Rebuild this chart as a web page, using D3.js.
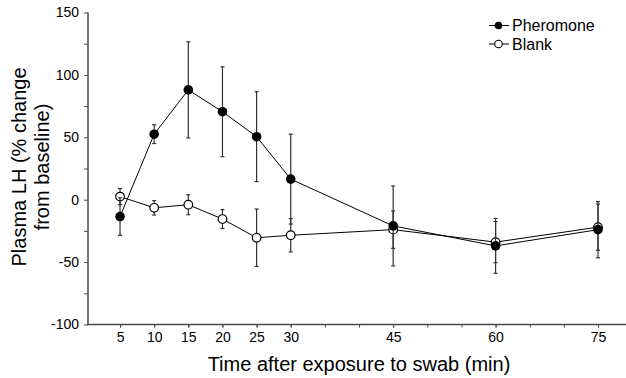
<!DOCTYPE html>
<html><head><meta charset="utf-8">
<script src="https://cdn.jsdelivr.net/npm/d3@7"></script>
<style>body{margin:0;background:#fff}svg{display:block}text{font-family:"Liberation Sans",Arial,sans-serif}</style>
</head><body>
<svg id="c" width="626" height="378"></svg>
<script>
const times = [5, 10, 15, 20, 25, 30, 45, 60, 75];
const pheromone = [-13.5, 52.5, 88, 70.5, 50.5, 16.5, -21, -37, -24];
const pheromoneErr = [15, 7.5, 38.5, 36, 36, 36, 32, 22, 22.5];
const blank = [2.5, -6.5, -4, -15.5, -30.5, -28.5, -24, -34, -22];
const blankErr = [6.5, 5.8, 8, 7.6, 23, 13.4, 15, 16.5, 18.5];
const xTickLabels = [5, 10, 15, 20, 25, 30, 45, 60, 75];
const xMinorTicks = [5,10,15,20,25,30,35,40,45,50,55,60,65,70,75];
const yTickLabels = [-100, -50, 0, 50, 100, 150];
const yMinorTicks = [-75, -25, 25, 75, 125];
const seriesNames = ["Pheromone", "Blank"];

const svg = d3.select("#c");
const x = d3.scaleLinear().domain([0, 80]).range([85.9, 85.9 + 80 * 6.828]);
const y = d3.scaleLinear().domain([-100, 150]).range([324.5, 12.5]);
const axisColor = "#4a4a4a";
const fmt = d => String(d);

// y axis
const gy = svg.append("g").attr("transform", `translate(88,0)`);
gy.call(d3.axisLeft(y).tickValues(yTickLabels).tickSize(4).tickSizeOuter(0).tickPadding(5).tickFormat(fmt));
gy.append("g").call(d3.axisLeft(y).tickValues(yMinorTicks).tickSize(4).tickFormat(""));
gy.selectAll("g > path.domain").remove();
gy.selectAll("line").attr("stroke", axisColor).attr("stroke-width", 1);
gy.selectAll("text").attr("font-size", 14).attr("fill", "#000").attr("font-family", "Liberation Sans, Arial, sans-serif");
svg.append("line").attr("x1", 88).attr("x2", 88).attr("y1", y(150)).attr("y2", y(-100) + 0.5)
  .attr("stroke", axisColor).attr("stroke-width", 1.5);

// x axis
const gx = svg.append("g").attr("transform", `translate(0,${y(-100)})`);
gx.call(d3.axisBottom(x).tickValues(xMinorTicks).tickSize(3).tickFormat(""));
gx.append("g").call(d3.axisBottom(x).tickValues(xTickLabels).tickSize(3).tickPadding(5).tickFormat(fmt));
gx.selectAll("path.domain").remove();
gx.selectAll("line").attr("stroke", axisColor).attr("stroke-width", 1);
gx.selectAll("text").attr("font-size", 14).attr("fill", "#000").attr("font-family", "Liberation Sans, Arial, sans-serif");
svg.append("line").attr("x1", 87.25).attr("x2", 626).attr("y1", y(-100)).attr("y2", y(-100))
  .attr("stroke", axisColor).attr("stroke-width", 1.5);

// titles
svg.append("text").attr("x", 359).attr("y", 370.5).attr("text-anchor", "middle")
  .attr("font-size", 20).text("Time after exposure to swab (min)");
const yt = svg.append("text").attr("transform", "translate(0,167) rotate(-90)").attr("text-anchor", "middle").attr("font-size", 20);
yt.append("tspan").attr("x", 0).attr("y", 25.5).text("Plasma LH (% change");
yt.append("tspan").attr("x", 0).attr("y", 48.5).text("from baseline)");

function drawSeries(vals, errs, filled) {
  const g = svg.append("g");
  const pts = times.map((t, i) => ({t, v: vals[i], e: errs[i]}));
  g.append("path").datum(pts).attr("fill", "none").attr("stroke", "#000").attr("stroke-width", 1)
    .attr("d", d3.line().x(d => x(d.t)).y(d => y(d.v)));
  const eb = g.selectAll("g.eb").data(pts).join("g").attr("stroke", "#333").attr("stroke-width", 1.2);
  eb.append("line").attr("x1", d => x(d.t)).attr("x2", d => x(d.t)).attr("y1", d => y(d.v + d.e)).attr("y2", d => y(d.v - d.e));
  eb.append("line").attr("x1", d => x(d.t) - 2).attr("x2", d => x(d.t) + 2).attr("y1", d => y(d.v + d.e)).attr("y2", d => y(d.v + d.e));
  eb.append("line").attr("x1", d => x(d.t) - 2).attr("x2", d => x(d.t) + 2).attr("y1", d => y(d.v - d.e)).attr("y2", d => y(d.v - d.e));
  g.selectAll("circle").data(pts).join("circle").attr("cx", d => x(d.t)).attr("cy", d => y(d.v))
    .attr("r", filled ? 4.8 : 4.3).attr("fill", filled ? "#000" : "#fff").attr("stroke", "#000").attr("stroke-width", filled ? 0 : 1.2);
}
drawSeries(blank, blankErr, false);
drawSeries(pheromone, pheromoneErr, true);

// legend
const lg = svg.append("g");
seriesNames.forEach((name, i) => {
  const cy = 25.5 + i * 18.5;
  lg.append("line").attr("x1", 489).attr("x2", 509).attr("y1", cy).attr("y2", cy).attr("stroke", "#000").attr("stroke-width", 1);
  lg.append("circle").attr("cx", 498.5).attr("cy", cy).attr("r", 3.8)
    .attr("fill", i === 0 ? "#000" : "#fff").attr("stroke", "#000").attr("stroke-width", i === 0 ? 0 : 1.1);
  lg.append("text").attr("x", 512).attr("y", cy + 5.5).attr("font-size", 16).text(name);
});
</script>
</body></html>
